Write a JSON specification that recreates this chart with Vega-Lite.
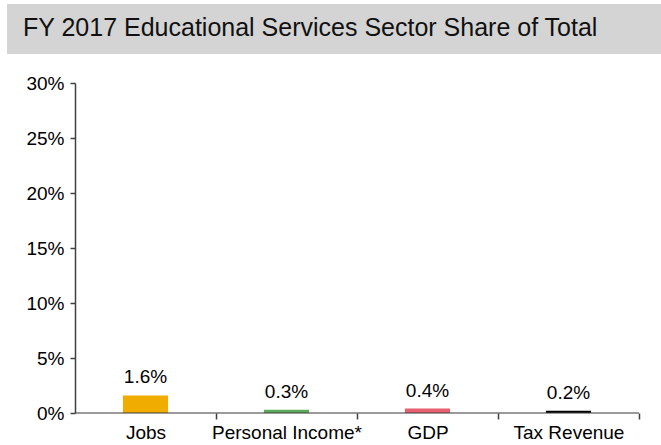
{
  "$schema": "https://vega.github.io/schema/vega-lite/v6.json",
  "background": "white",
  "padding": {"left": 7, "top": 4, "right": 0, "bottom": 0},
  "config": {
    "font": "Liberation Sans",
    "view": {"stroke": null}
  },
  "spacing": 20,
  "vconcat": [
    {
      "width": 654,
      "height": 50,
      "view": {"fill": "#d4d4d4", "stroke": null},
      "title": {
        "text": "FY 2017 Educational Services Sector Share of Total",
        "anchor": "start",
        "frame": "group",
        "orient": "top",
        "offset": 0,
        "baseline": "middle",
        "dx": 16,
        "dy": 49,
        "fontSize": 25,
        "fontWeight": "normal",
        "color": "#111111",
        "font": "Liberation Sans"
      },
      "data": {"values": [{"h": 0}]},
      "mark": {"type": "point", "opacity": 0},
      "encoding": {}
    },
    {
      "width": 653,
      "height": 330,
      "data": {
        "values": [
          {"category": "Jobs", "share": 0.016},
          {"category": "Personal Income*", "share": 0.003},
          {"category": "GDP", "share": 0.004},
          {"category": "Tax Revenue", "share": 0.002}
        ]
      },
      "encoding": {
        "x": {
          "field": "category",
          "type": "nominal",
          "sort": null,
          "scale": {"paddingInner": 0.68, "paddingOuter": 0.6556, "align": 0.627},
          "axis": {
            "title": null,
            "labelAngle": 0,
            "labelFontSize": 19,
            "labelColor": "#000000",
            "labelPadding": 4,
            "domain": false,
            "tickOffset": 70.5,
            "labelOffset": -70.5,
            "tickSize": 6,
            "tickColor": "#404040",
            "tickWidth": 1.5
          }
        },
        "y": {
          "field": "share",
          "type": "quantitative",
          "scale": {"domain": [0, 0.3]},
          "axis": {
            "title": null,
            "format": ".0%",
            "values": [0, 0.05, 0.1, 0.15, 0.2, 0.25, 0.3],
            "grid": false,
            "offset": -68,
            "labelFontSize": 19,
            "labelColor": "#000000",
            "labelPadding": 6,
            "tickSize": 5,
            "tickColor": "#404040",
            "tickWidth": 1.5,
            "domainColor": "#404040",
            "domainWidth": 1.5
          }
        }
      },
      "layer": [
        {
          "mark": {"type": "bar"},
          "encoding": {
            "color": {
              "field": "category",
              "type": "nominal",
              "scale": {
                "domain": ["Jobs", "Personal Income*", "GDP", "Tax Revenue"],
                "range": ["#f0ad00", "#5cab5c", "#e8606f", "#000000"]
              },
              "legend": null
            }
          }
        },
        {
          "mark": {"type": "text", "baseline": "bottom", "dy": -8, "fontSize": 19, "color": "#000000"},
          "encoding": {
            "text": {"field": "share", "type": "quantitative", "format": ".1%"}
          }
        },
        {
          "mark": {"type": "tick", "orient": "horizontal", "size": 141, "thickness": 1.5, "color": "#404040"},
          "encoding": {
            "y": {"datum": 0}
          }
        }
      ]
    }
  ]
}
